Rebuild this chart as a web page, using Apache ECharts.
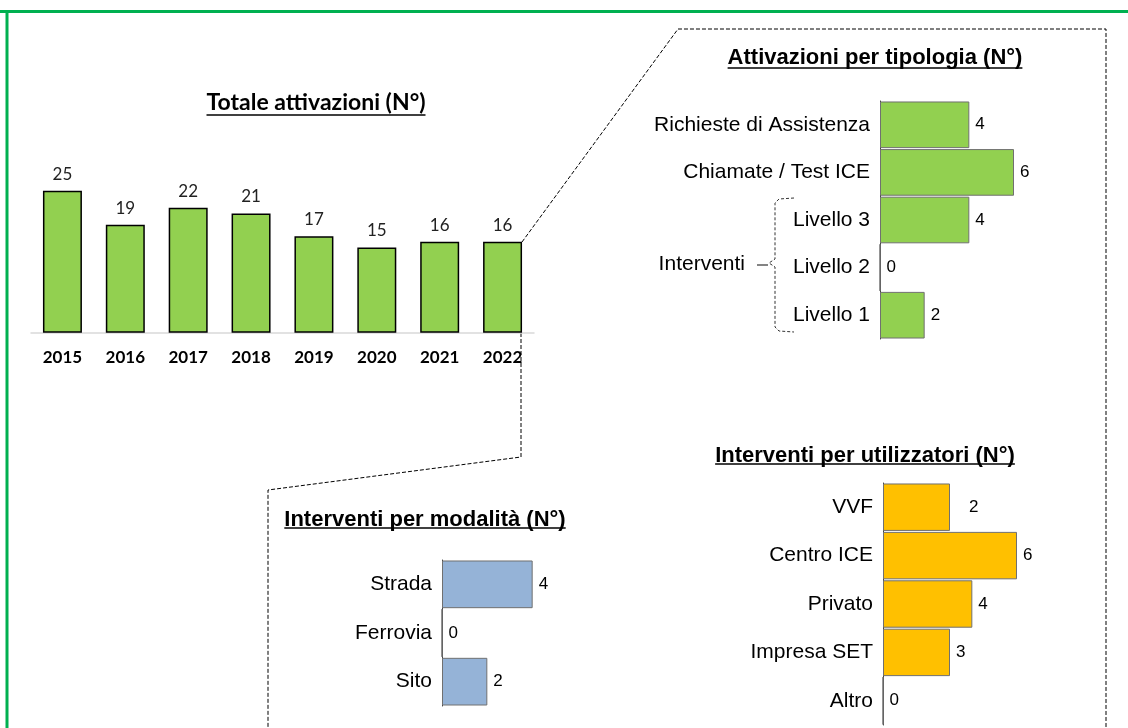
<!DOCTYPE html>
<html>
<head>
<meta charset="utf-8">
<script src="https://cdn.jsdelivr.net/npm/echarts@6/dist/echarts.min.js"></script>
<style>
  html, body { margin: 0; padding: 0; background: #fff; }
  #chart { width: 1128px; height: 728px; }
</style>
</head>
<body>
<div id="chart"></div>
<script>
// totale attivazioni
const years = ['2015', '2016', '2017', '2018', '2019', '2020', '2021', '2022'];
const totals = [25, 19, 22, 21, 17, 15, 16, 16];

// attivazioni per tipologia
const tipoCats = ['Richieste di Assistenza', 'Chiamate / Test ICE', 'Livello 3', 'Livello 2', 'Livello 1'];
const tipoValues = [4, 6, 4, 0, 2];

// interventi per modalita
const modCats = ['Strada', 'Ferrovia', 'Sito'];
const modValues = [4, 0, 2];

// interventi per utilizzatori
const utilCats = ['VVF', 'Centro ICE', 'Privato', 'Impresa SET', 'Altro'];
const utilValues = [3, 6, 4, 3, 0];          // bar lengths as drawn
const utilLabels = ['2', '6', '4', '3', '0']; // numbers printed next to the bars

const ARIAL = '"Liberation Sans", Arial, sans-serif';
const CALIBRI = 'Lato, "Noto Sans", sans-serif';
const GREEN = '#92D050';

const chart = echarts.init(document.getElementById('chart'), null, { renderer: 'canvas' });

// measure title width for the underline
const ctx = document.createElement('canvas').getContext('2d');
function title(text, cx, cy, font, underY) {
  ctx.font = font;
  const w = ctx.measureText(text).width;
  return [
    { type: 'text', style: { text: text, x: cx, y: cy, font: font, textAlign: 'center', textVerticalAlign: 'middle', fill: '#000' } },
    { type: 'line', shape: { x1: cx - w / 2, y1: underY, x2: cx + w / 2, y2: underY }, style: { stroke: '#000', lineWidth: 1.5 } }
  ];
}

function hAxis(gridIndex, cats) {
  return {
    type: 'category', gridIndex: gridIndex, data: cats, inverse: true,
    axisLine: { show: true, lineStyle: { color: '#404040', width: 1 } },
    axisTick: { show: false },
    axisLabel: { margin: 10, fontSize: 21, color: '#000', fontFamily: ARIAL }
  };
}
function vAxis(gridIndex) {
  return { type: 'value', gridIndex: gridIndex, min: 0, max: 6, show: false, splitLine: { show: false } };
}
function hBar(idx, data, color, labels) {
  return {
    type: 'bar', xAxisIndex: idx, yAxisIndex: idx, data: data,
    barCategoryGap: '2%',
    itemStyle: { color: color, borderColor: '#707070', borderWidth: 1 },
    label: {
      show: true, position: 'right', distance: 6, fontSize: 17, color: '#000', fontFamily: ARIAL,
      formatter: labels ? (p => labels[p.dataIndex]) : '{c}'
    }
  };
}

// the VVF label sits a bit further from its bar in the original
const utilData = utilValues.map((v, i) => i === 0 ? { value: v, label: { offset: [13, 0] } } : v);

const dash = { stroke: '#000', lineWidth: 1, lineDash: [4, 2], fill: null };

const option = {
  animation: false,
  backgroundColor: '#fff',
  grid: [
    { left: 31, top: 190.7, width: 503, height: 142 },
    { left: 880, top: 101, width: 134, height: 238 },
    { left: 442, top: 560, width: 136, height: 146 },
    { left: 883, top: 483, width: 134, height: 242 }
  ],
  xAxis: [
    {
      type: 'category', gridIndex: 0, data: years,
      axisLine: { lineStyle: { color: '#d9d9d9', width: 1.5 } },
      axisTick: { show: false },
      axisLabel: { margin: 16, fontSize: 17, fontWeight: 'bold', color: '#000', fontFamily: CALIBRI }
    },
    vAxis(1), vAxis(2), vAxis(3)
  ],
  yAxis: [
    { type: 'value', gridIndex: 0, min: 0, max: 25, show: false, splitLine: { show: false } },
    hAxis(1, tipoCats), hAxis(2, modCats), hAxis(3, utilCats)
  ],
  series: [
    {
      type: 'bar', xAxisIndex: 0, yAxisIndex: 0, data: totals, barWidth: '62%',
      itemStyle: { color: GREEN, borderColor: '#000', borderWidth: 1.5 },
      label: { show: true, position: 'top', distance: 8, fontSize: 17, color: '#222', fontFamily: CALIBRI }
    },
    hBar(1, tipoValues, GREEN),
    hBar(2, modValues, '#95B3D7'),
    hBar(3, utilData, '#FFC000', utilLabels)
  ],
  graphic: [
    // green frame
    { type: 'line', shape: { x1: 0, y1: 11.5, x2: 1128, y2: 11.5 }, style: { stroke: '#00B050', lineWidth: 3 } },
    { type: 'line', shape: { x1: 7, y1: 10, x2: 7, y2: 728 }, style: { stroke: '#00B050', lineWidth: 3 } },
    // zoom connectors
    { type: 'polyline', shape: { points: [[522, 242], [678, 29], [1106, 29], [1106, 728]] }, style: dash },
    { type: 'polyline', shape: { points: [[521, 333], [521, 457], [268, 490], [268, 728]] }, style: dash },
    // brace for Interventi
    { type: 'polyline', shape: { points: [[794, 198], [779, 199], [775, 203], [775, 259], [769, 263], [775, 267], [775, 327], [779, 331], [794, 332]] },
      style: { stroke: '#333', lineWidth: 1, lineDash: [3, 2], fill: null } },
    { type: 'line', shape: { x1: 757, y1: 265, x2: 768, y2: 265 }, style: { stroke: '#333', lineWidth: 1.2 } },
    { type: 'text', style: { text: 'Interventi', x: 745, y: 264, font: '21px ' + ARIAL, textAlign: 'right', textVerticalAlign: 'middle', fill: '#000' } },
    ...title('Totale attivazioni (N°)', 316, 103, 'bold 23px ' + CALIBRI, 115),
    ...title('Attivazioni per tipologia (N°)', 875, 58, 'bold 22px ' + ARIAL, 68),
    ...title('Interventi per modalità (N°)', 425, 520, 'bold 22px ' + ARIAL, 528),
    ...title('Interventi per utilizzatori (N°)', 865, 456, 'bold 22px ' + ARIAL, 464)
  ]
};

chart.setOption(option);
</script>
</body>
</html>
